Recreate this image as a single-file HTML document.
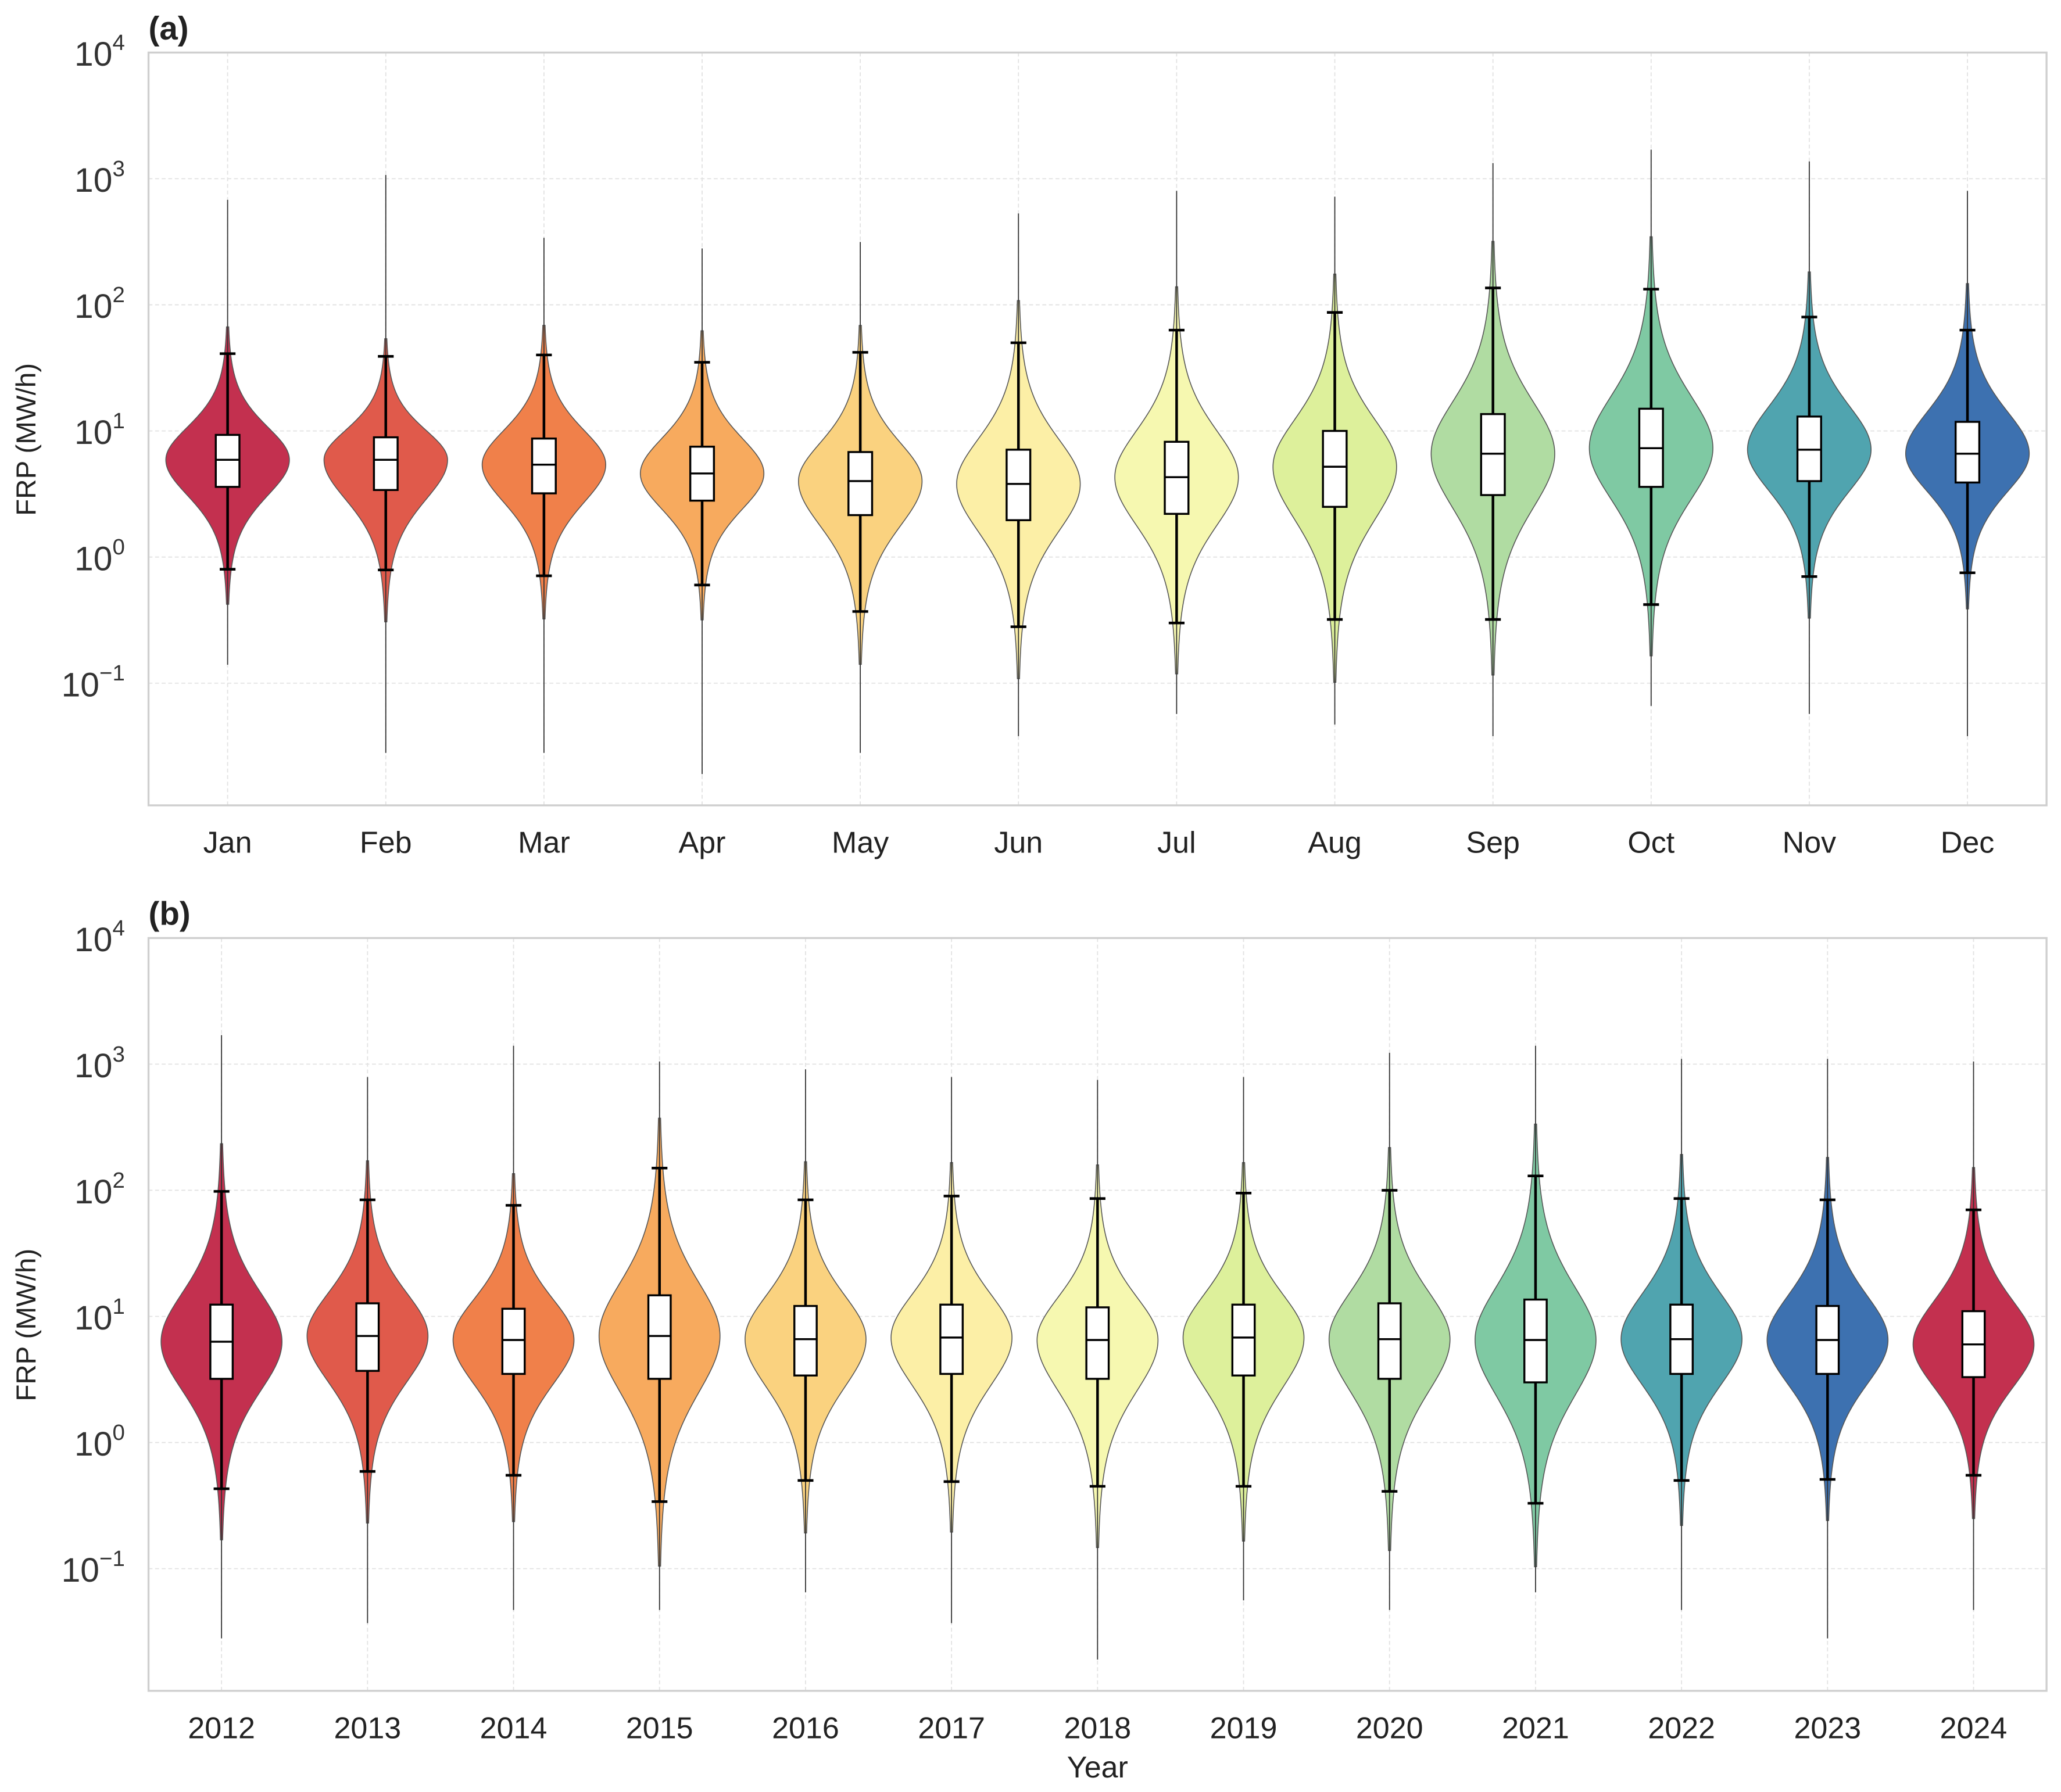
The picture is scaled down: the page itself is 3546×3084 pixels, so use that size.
<!DOCTYPE html>
<html><head><meta charset="utf-8"><style>
html,body{margin:0;padding:0;background:#fff;}
svg{display:block;font-family:"Liberation Sans","DejaVu Sans",sans-serif;}
</style></head><body>
<svg id="fig" width="3546" height="3084" viewBox="0 0 1568 1364" preserveAspectRatio="none" xmlns="http://www.w3.org/2000/svg"></svg>
<script>
// ---- Panel (a) monthly data ----
const months = ["Jan","Feb","Mar","Apr","May","Jun","Jul","Aug","Sep","Oct","Nov","Dec"];
const monthMedian = [5.9,5.9,5.4,4.6,4.0,3.8,4.3,5.2,6.6,7.3,7.1,6.6];
const monthQ1 = [3.6,3.4,3.2,2.8,2.15,1.96,2.2,2.5,3.1,3.6,4.0,3.9];
const monthQ3 = [9.3,8.9,8.7,7.5,6.8,7.1,8.2,10,13.6,15,13,11.8];
const monthWhiskLo = [0.8,0.79,0.71,0.6,0.37,0.28,0.3,0.32,0.32,0.42,0.7,0.75];
const monthWhiskHi = [41,39,40,35,42,50,63,87,136,133,80,63];
const monthMin = [0.14,0.028,0.028,0.019,0.028,0.038,0.057,0.047,0.038,0.066,0.057,0.038];
const monthMax = [680,1070,340,280,315,530,800,720,1330,1700,1370,800];
// ---- Panel (b) yearly data ----
const years = ["2012","2013","2014","2015","2016","2017","2018","2019","2020","2021","2022","2023","2024"];
const yearMedian = [6.3,7.0,6.5,7.0,6.6,6.8,6.5,6.8,6.6,6.5,6.6,6.5,6.0];
const yearQ1 = [3.2,3.7,3.5,3.2,3.4,3.5,3.2,3.4,3.2,3.0,3.5,3.5,3.3];
const yearQ3 = [12.4,12.7,11.5,14.7,12.1,12.4,11.8,12.4,12.7,13.6,12.4,12.1,11.0];
const yearWhiskLo = [0.43,0.59,0.55,0.34,0.5,0.49,0.45,0.45,0.41,0.33,0.5,0.51,0.55];
const yearWhiskHi = [98,84,76,150,84,90,86,95,100,130,86,84,70];
const yearMin = [0.028,0.037,0.047,0.047,0.065,0.037,0.019,0.056,0.047,0.065,0.047,0.028,0.047];
const yearMax = [1700,790,1400,1050,910,790,750,790,1230,1400,1100,1100,1050];
const palette = ["#c3304f","#e05a4b","#f0804a","#f7aa5e","#fad27f","#fcefa6","#f6f8b0","#ddf09b","#b0dca2","#7fc9a3","#50a4af","#3d71b0"];

const NS="http://www.w3.org/2000/svg";
const svg=document.getElementById('fig');
function mk(tag,attrs,parent){const e=document.createElementNS(NS,tag);for(const k in attrs)e.setAttribute(k,attrs[k]);(parent||svg).appendChild(e);return e;}

function panel(cfg){
  const g=mk('g',{});
  
  
  const L=113,R=1557,T=cfg.top,B=cfg.bottom,dec=96;
  const y=v=>T+(4-Math.log10(v))*dec;
  const n=cfg.cats.length, step=(R-L)/n;
  const x=i=>L+step*(i+0.5);
  for(let e=-1;e<=4;e++){
    const gl=mk('line',{x1:L,x2:R,y1:y(Math.pow(10,e)),y2:y(Math.pow(10,e)),stroke:'#e2e2e2','stroke-width':0.8,'stroke-dasharray':'3,2'},g);
    
    
    const t=mk('text',{x:95,y:y(Math.pow(10,e))+10,'text-anchor':'end','font-size':26,fill:'#333'},g);
    
    
    t.textContent='10';
    const s=mk('tspan',{dy:-12,'font-size':17},t);
    s.textContent=e<0?'\u2212'+Math.abs(e):String(e);
  }
  cfg.cats.forEach((c,i)=>{
    const gl=mk('line',{x1:x(i),x2:x(i),y1:T,y2:B,stroke:'#e2e2e2','stroke-width':0.8,'stroke-dasharray':'3,2'},g);
    
    
  });
  const fr=mk('rect',{x:L,y:T,width:R-L,height:B-T,fill:'none',stroke:'#cfcfcf','stroke-width':1.5},g);
  
  
  const W=cfg.halfW;
  cfg.cats.forEach((c,i)=>{
    const cx=x(i);
    const med=Math.log10(cfg.med[i]);
    const sLo=(med-Math.log10(cfg.q1[i]))/0.674;
    const sHi=(Math.log10(cfg.q3[i])-med)/0.674;
    const tmin=Math.log10(cfg.mn[i]), tmax=Math.log10(cfg.mx[i]);
    const pts=[];
    for(let k=0;k<=300;k++){
      const t=tmin+(tmax-tmin)*k/300;
      const z=(t-med)/(t<med?sLo:sHi);
      const w=W*Math.pow(1+z*z/6,-3.5);
      if(w<0.8)continue;
      pts.push([t,w]);
    }
    let d='';
    pts.forEach((p,k)=>{d+=(k?'L':'M')+(cx-p[1]).toFixed(2)+','+y(Math.pow(10,p[0])).toFixed(2);});
    for(let k=pts.length-1;k>=0;k--){d+='L'+(cx+pts[k][1]).toFixed(2)+','+y(Math.pow(10,pts[k][0])).toFixed(2);}
    d+='Z';
    const v=mk('path',{d:d,fill:palette[i%12],stroke:'#555','stroke-width':0.7},g);
    
    
    const ln=mk('line',{x1:cx,x2:cx,y1:y(cfg.mx[i]),y2:y(cfg.mn[i]),stroke:'#333','stroke-width':0.8},g);
    
    
    const wl=mk('line',{x1:cx,x2:cx,y1:y(cfg.whi[i]),y2:y(cfg.wlo[i]),stroke:'#000','stroke-width':2},g);
    
    
    [cfg.whi[i],cfg.wlo[i]].forEach(vv=>{
      const cap=mk('line',{x1:cx-6,x2:cx+6,y1:y(vv),y2:y(vv),stroke:'#000','stroke-width':2},g);
      
      
    });
    const bw=cfg.boxW;
    const bx=mk('rect',{x:cx-bw/2,y:y(cfg.q3[i]),width:bw,height:y(cfg.q1[i])-y(cfg.q3[i]),fill:'#fff',stroke:'#000','stroke-width':1.5},g);
    
    
    const md=mk('line',{x1:cx-bw/2,x2:cx+bw/2,y1:y(cfg.med[i]),y2:y(cfg.med[i]),stroke:'#000','stroke-width':1.5},g);
    
    
    const tl=mk('text',{x:cx,y:B+36,'text-anchor':'middle','font-size':23,fill:'#222'},g);
    
    
    tl.textContent=c;
  });
  const yl=mk('text',{x:0,y:0,'text-anchor':'middle','font-size':21,fill:'#222',transform:`translate(27,${(T+B)/2+8}) rotate(-90)`},g);
  
  
  yl.textContent='FRP (MW/h)';
  const pl=mk('text',{x:113,y:T-10,'font-size':25,'font-weight':'bold',fill:'#222'},g);
  
  
  pl.textContent=cfg.label;
}
panel({name:'panel-a-monthly',top:40,bottom:613,cats:months,med:monthMedian,q1:monthQ1,q3:monthQ3,wlo:monthWhiskLo,whi:monthWhiskHi,mn:monthMin,mx:monthMax,halfW:47,boxW:18,label:'(a)'});
panel({name:'panel-b-yearly',top:714,bottom:1287,cats:years,med:yearMedian,q1:yearQ1,q3:yearQ3,wlo:yearWhiskLo,whi:yearWhiskHi,mn:yearMin,mx:yearMax,halfW:46,boxW:17,label:'(b)'});
const xt=mk('text',{x:835,y:1353,'text-anchor':'middle','font-size':23,fill:'#222'});


xt.textContent='Year';
</script>
</body></html>
